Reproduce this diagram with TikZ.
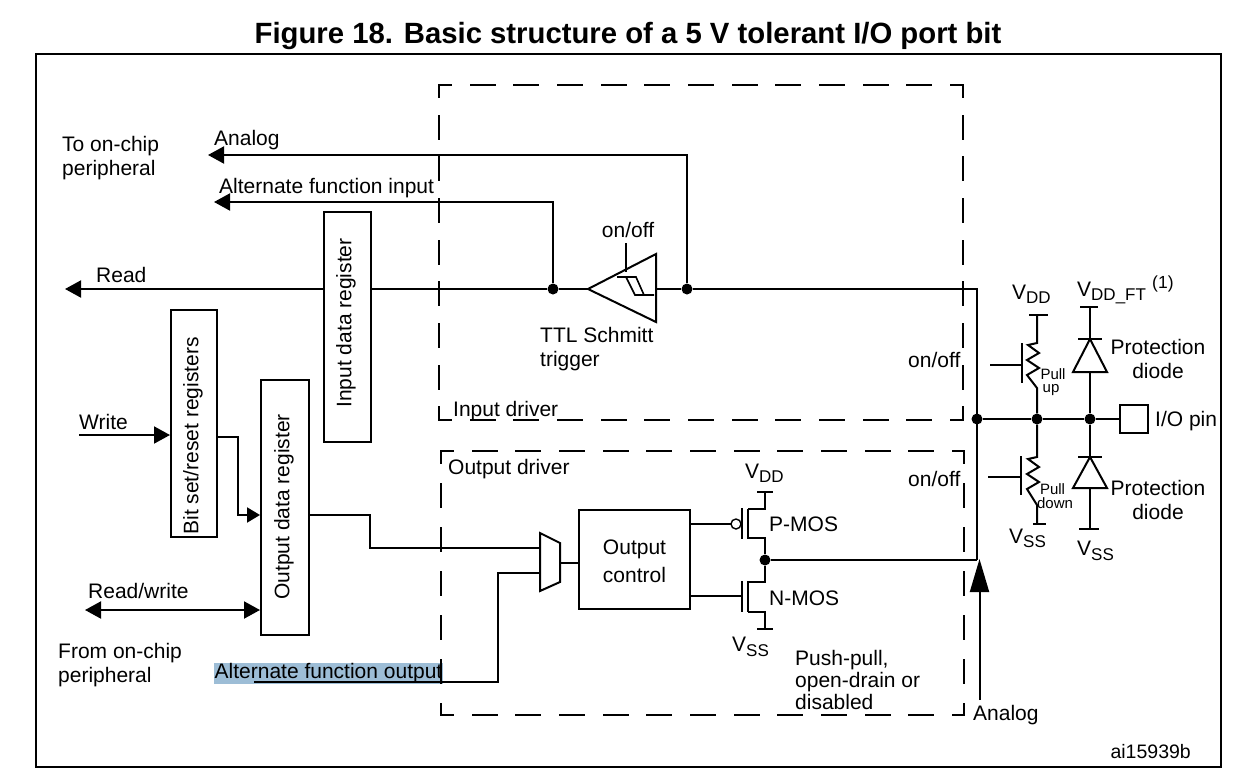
\documentclass[tikz,border=0pt]{standalone}
\usepackage{fontspec}
\setmainfont{Liberation Sans}
\usetikzlibrary{arrows.meta}
\definecolor{markBlue}{RGB}{157,189,214}
\newcommand{\supply}[1]{V\raisebox{-4.5pt}{\fontsize{17}{17}\selectfont #1}}
\tikzset{
  wire/.style={line width=2pt},
  bigTip/.style={-{Triangle[length=16pt,width=17pt]}},
  regBox/.style={draw,line width=2pt,fill=white,inner sep=0pt},
  regText/.style={inner sep=0pt,rotate=90,font=\fontsize{21}{24}\selectfont},
  junction/.style={circle,fill=black,inner sep=0pt,minimum size=11pt},
  lbl/.style={anchor=west,inner sep=0pt,align=left,font=\fontsize{21}{24}\selectfont},
  smallLbl/.style={inner sep=0pt,align=center,font=\fontsize{15}{15}\selectfont},
  acrossDash/.style={line width=2pt,line cap=rect,dash pattern=on 24pt off 19.67pt,dash phase=12pt},
  alongDash/.style={line width=2pt,line cap=rect,dash pattern=on 23pt off 18.67pt,dash phase=11pt},
  alongDashLow/.style={line width=2pt,line cap=rect,dash pattern=on 23pt off 21pt,dash phase=11pt}
}
\begin{document}
\begin{tikzpicture}[x=1pt,y=-1pt]
  \useasboundingbox (0,0) rectangle (1253,782);
  \node[inner sep=0pt,font=\bfseries\fontsize{29.3}{30}\selectfont] (title) at (628,36)
    {Figure 18. Basic structure of a 5 V tolerant I/O port bit};
  \draw[wire] (36,54) rectangle (1221,767);

  \node[inner sep=0pt,fill=markBlue,minimum width=229pt,minimum height=21pt,
    font=\fontsize{21}{24}\selectfont] (altOutText) at (328.5,673.5) {Alternate function output};

  \coordinate (inNW) at (439,85);
  \coordinate (inNE) at (963,85);
  \coordinate (inSE) at (963,420);
  \coordinate (inSW) at (439,420);
  \coordinate (outNW) at (441,451);
  \coordinate (outNE) at (964,451);
  \coordinate (outSE) at (964,715);
  \coordinate (outSW) at (441,715);
  \draw[acrossDash] (inNW) -- (inNE);
  \draw[acrossDash] (inSW) -- (inSE);
  \draw[alongDash] (inNW) -- (inSW);
  \draw[alongDash] (inNE) -- (inSE);
  \draw[acrossDash] (outNW) -- (outNE);
  \draw[acrossDash] (outSW) -- (outSE);
  \draw[alongDashLow] (outNW) -- (outSW);
  \draw[alongDashLow] (outNE) -- (outSE);

  \node[junction] (altInTap) at (553,289) {};
  \node[junction] (analogTap) at (687,289) {};
  \node[junction] (busTap) at (977,419) {};
  \node[junction] (pullTap) at (1037,419) {};
  \node[junction] (diodeTap) at (1090,419) {};
  \node[junction] (mosTap) at (765,560) {};
  \coordinate (readEnd) at (65,289);
  \coordinate (analogEnd) at (208,155);
  \coordinate (altInEnd) at (214,202);
  \coordinate (schmittTip) at (588,289);
  \coordinate (schmittOut) at (656,289);
  \coordinate (busCorner) at (977,289);
  \coordinate (busBottom) at (977,560);

  \draw[wire,bigTip] (altInTap) -- (readEnd);
  \draw[wire] (altInTap) -- (schmittTip);
  \draw[wire,bigTip] (altInTap) |- (altInEnd);
  \draw[wire,bigTip] (analogTap) |- (analogEnd);
  \draw[wire] (schmittOut) -- (analogTap) -- (busCorner) -- (busBottom);

  \node[regBox,minimum width=47pt,minimum height=230pt] (inputReg) at (347.5,327) {};
  \node[regBox,minimum width=46pt,minimum height=227pt] (bitReg) at (194,423.5) {};
  \node[regBox,minimum width=48pt,minimum height=255pt] (outputReg) at (285,507.5) {};
  \node[regBox,minimum width=111pt,minimum height=99pt] (outputCtl) at (634.5,559.5) {};
  \node[regText] (inputRegText) at (346,323) {Input data register};
  \node[regText] (bitRegText) at (193,436) {Bit set/reset registers};
  \node[regText] (outputRegText) at (284,507) {Output data register};
  \node[inner sep=0pt,align=center,font=\fontsize{21}{28}\selectfont] (outputCtlText)
    at (634.5,561.5) {Output\\control};

  \coordinate (writeStart) at (79,435);
  \coordinate (rwEnd) at (85,610);
  \coordinate (bitOut) at (217,437);
  \coordinate (bitBend) at (238,515);
  \coordinate (ctlIn) at (560,563);
  \draw[wire,bigTip] (writeStart) -- (bitReg.west |- writeStart);
  \draw[wire,{Triangle[length=16pt,width=17pt]}-{Triangle[length=16pt,width=17pt]}]
    (rwEnd) -- (outputReg.west |- rwEnd);
  \draw[wire,-{Triangle[length=13pt,width=15pt]}] (bitOut) -| (bitBend) -- (outputReg.west |- bitBend);

  \coordinate (muxA) at (540,548);
  \coordinate (muxB) at (540,573);
  \draw[wire] (540,533) -- (560,543) -- (560,582) -- (540,591) -- cycle;
  \draw[wire] (outputReg.east |- bitBend) -| (370,548) -- (muxA);
  \coordinate (altOutStart) at (254,682);
  \draw[wire] (altOutStart) -| (498,573) -- (muxB);
  \draw[wire] (ctlIn) -- (outputCtl.west |- ctlIn);

  \draw[wire] (schmittTip) -- (656,254) -- (656,322) -- cycle;
  \draw[wire] (626,243) -- (626,272);
  \draw[line width=1.6pt] (617,277) -- (636,277) -- (644,295) -- (654,295);
  \draw[line width=1.6pt] (626,277) -- (635,295) -- (644,295);

  \coordinate (pGate) at (731,524);
  \coordinate (nGate) at (742,596);
  \draw[wire] (outputCtl.east |- pGate) -- (pGate);
  \draw[line width=1.4pt] (736,524) circle (5pt);
  \draw[wire] (742,508) -- (742,539);
  \draw[wire] (748,509) -- (748,539);
  \draw[wire] (748,509) -- (765,509) -- (765,492);
  \draw[wire] (757,492) -- (773,492);
  \draw[wire] (748,538) -- (765,538) -- (mosTap) -- (765,582) -- (748,582);
  \draw[wire] (outputCtl.east |- nGate) -- (nGate);
  \draw[wire] (742,581) -- (742,612);
  \draw[wire] (748,581) -- (748,612);
  \draw[wire] (748,612) -- (765,612) -- (765,629);
  \draw[wire] (757,629) -- (773,629);
  \draw[wire] (mosTap) -- (busBottom);

  \coordinate (analogStart) at (979.5,700);
  \coordinate (analogEnd2) at (979.5,559);
  \draw[wire,-{Triangle[length=33pt,width=19pt]}] (analogStart) -- (analogEnd2);

  \node[draw,line width=2pt,minimum size=28pt,inner sep=0pt] (ioPin) at (1133.5,419) {};
  \draw[wire] (busTap) -- (pullTap) -- (diodeTap) -- (ioPin);

  \draw[wire] (1029,315) -- (1048,315);
  \draw[wire] (1037,315) -- (1037,343) -- (1028,345) -- (1039,353) -- (1027,360) -- (1039,368)
    -- (1027,375) -- (1037,388) -- (pullTap);
  \draw[wire] (1022,343) -- (1022,383);
  \draw[wire] (990,365) -- (1022,365);

  \draw[wire] (pullTap) -- (1037,457) -- (1028,459) -- (1039,467) -- (1027,474) -- (1039,482)
    -- (1027,489) -- (1037,505) -- (1037,524);
  \draw[wire] (1033,524) -- (1046,524);
  \draw[wire] (1021,456) -- (1021,495);
  \draw[wire] (988,477) -- (1021,477);

  \draw[wire] (1080,307) -- (1098,307);
  \draw[wire] (1090,307) -- (1090,339);
  \draw[wire] (1078,339) -- (1102,339);
  \draw[wire] (1090,339) -- (1073,372) -- (1107,372) -- cycle;
  \draw[wire] (1090,372) -- (diodeTap) -- (1090,457);
  \draw[wire] (1078,457) -- (1102,457);
  \draw[wire] (1090,457) -- (1073,488) -- (1107,488) -- cycle;
  \draw[wire] (1090,488) -- (1090,529);
  \draw[wire] (1079,529) -- (1099,529);

  \node[lbl] (analogTop) at (214,140) {Analog};
  \node[lbl] (toChip) at (62,158) {To on-chip\\peripheral};
  \node[lbl] (altInText) at (219,188) {Alternate function input};
  \node[lbl] (readText) at (96,275) {Read};
  \node[lbl] (writeText) at (79,422) {Write};
  \node[lbl] (rwText) at (88,591) {Read/write};
  \node[lbl] (fromChip) at (58,665) {From on-chip\\peripheral};
  \node[lbl,anchor=center] (schmittEn) at (628,230) {on/off};
  \node[lbl] (ttlText) at (540,349) {TTL Schmitt\\trigger};
  \node[lbl] (inDriver) at (453,411) {Input driver};
  \node[lbl] (outDriver) at (448,469) {Output driver};
  \node[lbl] (pullUpEn) at (908,360) {on/off};
  \node[lbl] (pullDownEn) at (908,479) {on/off};
  \node[lbl] (vddMos) at (745,473.5) {\supply{DD}};
  \node[lbl] (pmosText) at (769,524) {P-MOS};
  \node[lbl] (nmosText) at (769,598) {N-MOS};
  \node[lbl] (vssMos) at (732,647) {\supply{SS}};
  \node[lbl,font=\fontsize{21}{22}\selectfont] (pushText) at (795,680) {Push-pull,\\open-drain or\\disabled};
  \node[lbl] (analogLow) at (973,715) {Analog};
  \node[lbl] (vddPull) at (1012,294.5) {\supply{DD}};
  \node[lbl] (vddFt) at (1077,293) {\supply{DD\_FT}};
  \node[lbl,font=\fontsize{17.5}{20}\selectfont] (noteMark) at (1152,284) {(1)};
  \node[lbl,align=center,anchor=center] (protTop) at (1158,359) {Protection\\diode};
  \node[lbl,align=center,anchor=center] (protLow) at (1158,500) {Protection\\diode};
  \node[lbl] (pinText) at (1155,421) {I/O pin};
  \node[lbl] (vssPull) at (1009,538.5) {\supply{SS}};
  \node[lbl] (vssDiode) at (1077,551) {\supply{SS}};
  \node[smallLbl] (pullUpA) at (1053,374) {Pull};
  \node[smallLbl] (pullUpB) at (1051,390) {up};
  \node[smallLbl] (pullDownA) at (1052.5,489) {Pull};
  \node[smallLbl] (pullDownB) at (1055,503) {down};
  \node[lbl,anchor=east,font=\fontsize{19.5}{20}\selectfont] (figId) at (1191,752) {ai15939b};
\end{tikzpicture}
\end{document}
